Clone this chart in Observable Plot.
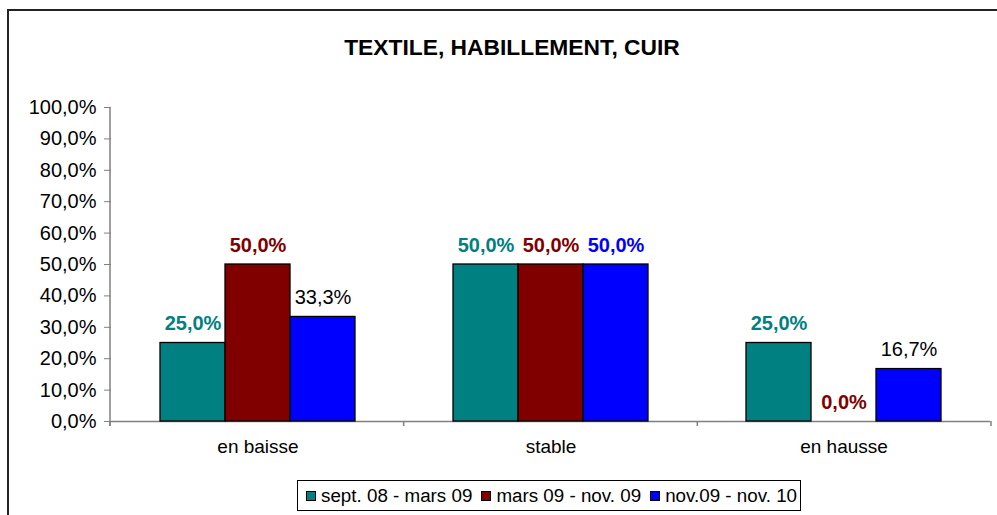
<!DOCTYPE html>
<html>
<head>
<meta charset="utf-8">
<script src="https://cdn.jsdelivr.net/npm/d3@7"></script>
<script src="https://cdn.jsdelivr.net/npm/@observablehq/plot@0.6"></script>
<style>
  html, body { margin: 0; padding: 0; background: #fff; }
  #chart { position: relative; width: 997px; height: 515px; overflow: hidden; background: #fff;
           font-family: "Liberation Sans", Arial, sans-serif; }
  #frame { position: absolute; left: 7px; top: 9px; width: 1100px; height: 700px; border: 2px solid #222; box-sizing: border-box; }
  #title { position: absolute; top: 36px; left: 512px; transform: translateX(-50%); white-space: nowrap;
           font-weight: bold; font-size: 22.8px; line-height: 22px; color: #000; }
  #plot { position: absolute; left: 0; top: 0; }
  #legend { position: absolute; left: 297px; top: 480px; width: 504px; height: 31px; box-sizing: border-box;
            border: 1px solid #000; display: flex; align-items: center; padding-left: 8px; font-size: 18.8px; white-space: nowrap; background: #fff; }
  #legend .item { display: flex; align-items: center; margin-right: 9px; }
  #legend .sw { width: 10px; height: 10px; border: 1px solid #000; box-sizing: border-box; margin-right: 5px; }
</style>
</head>
<body>
<div id="chart">
  <div id="frame"></div>
  <div id="plot"></div>
  <div id="title"></div>
  <div id="legend"></div>
</div>
<script>
// ---- data ----
const titleText = "TEXTILE, HABILLEMENT, CUIR";
const categories = ["en baisse", "stable", "en hausse"];
const series = ["sept. 08 - mars 09", "mars 09 - nov. 09", "nov.09 - nov. 10"];
const sept08_mars09 = [25.0, 50.0, 25.0];
const mars09_nov09 = [50.0, 50.0, 0.0];
const nov09_nov10 = [33.3, 50.0, 16.7];
const yTicks = [0, 10, 20, 30, 40, 50, 60, 70, 80, 90, 100];

// ---- styling (kept apart from data) ----
const seriesColors = ["#008080", "#800000", "#0000ff"];
const plainLabels = ["en baisse|nov.09 - nov. 10", "en hausse|nov.09 - nov. 10"];

const valuesBySeries = [sept08_mars09, mars09_nov09, nov09_nov10];
const rows = [];
series.forEach((s, j) => categories.forEach((c, i) => rows.push({category: c, series: s, value: valuesBySeries[j][i]})));

const fmt = v => v.toFixed(1).replace(".", ",") + "%";
const isPlain = d => plainLabels.includes(d.category + "|" + d.series);
const colorOf = d => seriesColors[series.indexOf(d.series)];

const font = `"Liberation Sans", Arial, sans-serif`;

const plot = Plot.plot({
  width: 997,
  height: 470,
  marginLeft: 110,
  marginRight: 6,
  marginTop: 107,
  marginBottom: 49,
  style: {fontFamily: font, background: "transparent", overflow: "visible"},
  fx: {domain: categories, padding: 0, axis: null},
  x: {domain: series, paddingInner: 0, paddingOuter: 0.75, axis: null},
  y: {domain: [0, 100], axis: null},
  color: {domain: series, range: seriesColors},
  marks: [
    Plot.ruleY([0], {stroke: "#808080", strokeWidth: 1.5}),
    Plot.barY(rows, {fx: "category", x: "series", y: "value", fill: "series", stroke: "#000", strokeWidth: 1.3}),
    Plot.text(rows.filter(d => !isPlain(d)), {fx: "category", x: "series", y: "value", text: d => fmt(d.value),
      fill: colorOf, fontWeight: "bold", fontSize: 20, lineAnchor: "bottom", dy: -13}),
    Plot.text(rows.filter(isPlain), {fx: "category", x: "series", y: "value", text: d => fmt(d.value),
      fill: "#000", fontSize: 20, lineAnchor: "bottom", dy: -13}),
    Plot.axisY({ticks: yTicks, tickFormat: fmt, tickSize: 7, tickPadding: 8, fontSize: 20, stroke: "#808080", color: "#000", label: null}),
    Plot.axisFx({domain: categories, anchor: "bottom", tickSize: 0, tickPadding: 18, fontSize: 19, label: null})
  ]
});
document.getElementById("plot").appendChild(plot);

// extra axis lines from the plot's own scales
const fxs = plot.scale("fx");
const ys = plot.scale("y");
const band = d3.scaleBand(fxs.domain, fxs.range).paddingInner(0).paddingOuter(0);
const svg = d3.select(plot);
const y0 = ys.apply(0), y100 = ys.apply(100);
const g = svg.append("g").attr("stroke", "#808080").attr("stroke-width", 1.5);
const x0 = band.range()[0];
g.append("line").attr("x1", x0).attr("x2", x0).attr("y1", y100).attr("y2", y0 + 5);
const bounds = categories.map(c => band(c)).concat([band(categories[categories.length - 1]) + band.bandwidth()]);
bounds.forEach(b => g.append("line").attr("x1", b).attr("x2", b).attr("y1", y0).attr("y2", y0 + 5));

// title
document.getElementById("title").textContent = titleText;

// legend
const legend = document.getElementById("legend");
series.forEach((s, j) => {
  const item = document.createElement("div");
  item.className = "item";
  const sw = document.createElement("span");
  sw.className = "sw";
  sw.style.background = seriesColors[j];
  const t = document.createElement("span");
  t.textContent = s;
  item.appendChild(sw);
  item.appendChild(t);
  legend.appendChild(item);
});
</script>
</body>
</html>
